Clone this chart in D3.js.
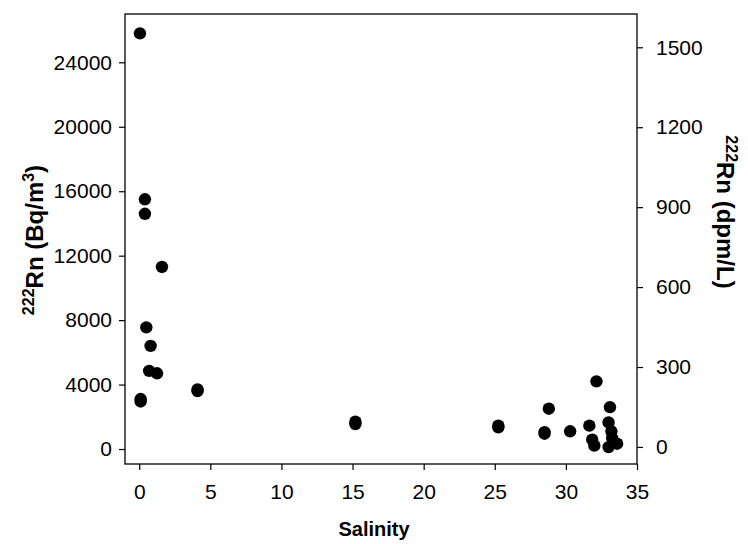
<!DOCTYPE html>
<html>
<head>
<meta charset="utf-8">
<script src="https://cdn.jsdelivr.net/npm/d3@7"></script>
<style>
  html, body { margin: 0; padding: 0; background: #fff; }
  svg { display: block; }
  text { font-family: Arial, "Liberation Sans", Helvetica, sans-serif; fill: #000; }
</style>
</head>
<body>
<svg id="chart" width="748" height="544"></svg>
<script>
// Salinity vs. 222Rn activity (Bq/m3); right axis gives the same activity in dpm/L
const salinity = [0.05, 0.4, 0.4, 1.6, 0.5, 0.8, 0.7, 1.25, 0.1, 0.1, 4.1, 4.1,
                  15.2, 15.2, 25.25, 25.25, 28.8, 28.5, 28.5, 30.3,
                  32.15, 33.1, 31.65, 33.0, 31.85, 32.0, 33.2, 33.25, 33.0, 33.6];
const radonBq = [25800, 15500, 14600, 11300, 7550, 6400, 4850, 4700, 2950, 3100, 3600, 3700,
                 1550, 1700, 1350, 1450, 2500, 950, 1050, 1100,
                 4200, 2600, 1450, 1650, 580, 210, 1100, 680, 120, 330];

const xTicks = [0, 5, 10, 15, 20, 25, 30, 35];
const yLeftTicks = [0, 4000, 8000, 12000, 16000, 20000, 24000];
const yRightTicks = [0, 300, 600, 900, 1200, 1500];

const svg = d3.select("#chart");
const plot = { left: 125, right: 637, top: 14, bottom: 464 };

const x = d3.scaleLinear().domain([-1, 35]).range([plot.left, plot.right]);
const yL = d3.scaleLinear().domain([-930, 27000]).range([plot.bottom, plot.top]);
const yR = d3.scaleLinear().domain([-64, 1625]).range([plot.bottom, plot.top]);

const tickFont = "21px";

// frame
svg.append("rect")
  .attr("x", plot.left).attr("y", plot.top)
  .attr("width", plot.right - plot.left).attr("height", plot.bottom - plot.top)
  .attr("fill", "none").attr("stroke", "#000").attr("stroke-width", 1.3);

// axes
const xAxis = d3.axisBottom(x).tickValues(xTicks).tickSize(6).tickPadding(14).tickFormat(d3.format("d"));
const gx = svg.append("g").attr("transform", `translate(0,${plot.bottom})`).call(xAxis);

const yAxisL = d3.axisLeft(yL).tickValues(yLeftTicks).tickSize(6).tickPadding(7).tickFormat(d3.format("d"));
const gyl = svg.append("g").attr("transform", `translate(${plot.left},0)`).call(yAxisL);

const yAxisR = d3.axisRight(yR).tickValues(yRightTicks).tickSize(6).tickPadding(13).tickFormat(d3.format("d"));
const gyr = svg.append("g").attr("transform", `translate(${plot.right},0)`).call(yAxisR);

[gx, gyl, gyr].forEach(g => {
  g.select(".domain").remove();
  g.selectAll(".tick line").attr("stroke", "#000").attr("stroke-width", 1.2);
  g.selectAll(".tick text").attr("font-size", tickFont)
    .attr("font-family", "Arial, 'Liberation Sans', sans-serif").attr("fill", "#000");
});

// points
svg.append("g").selectAll("circle")
  .data(salinity.map((s, i) => [s, radonBq[i]]))
  .join("circle")
  .attr("cx", d => x(d[0]))
  .attr("cy", d => yL(d[1]))
  .attr("r", 6.2)
  .attr("fill", "#000");

// axis titles
svg.append("text")
  .attr("x", (plot.left + plot.right) / 2 - 7)
  .attr("y", 536)
  .attr("text-anchor", "middle")
  .attr("font-size", "20px").attr("font-weight", "bold")
  .text("Salinity");

const leftTitle = svg.append("text")
  .attr("transform", "translate(43,240) rotate(-90)")
  .attr("text-anchor", "middle")
  .attr("font-size", "24px").attr("font-weight", "bold");
leftTitle.append("tspan").attr("font-size", "16px").attr("dy", "-9").text("222");
leftTitle.append("tspan").attr("dy", "9").text("Rn (Bq/m");
leftTitle.append("tspan").attr("font-size", "16px").attr("dy", "-9").text("3");
leftTitle.append("tspan").attr("dy", "9").text(")");

const rightTitle = svg.append("text")
  .attr("transform", "translate(717,212) rotate(90)")
  .attr("text-anchor", "middle")
  .attr("font-size", "24px").attr("font-weight", "bold");
rightTitle.append("tspan").attr("font-size", "16px").attr("dy", "-9").text("222");
rightTitle.append("tspan").attr("dy", "9").text("Rn (dpm/L)");
</script>
</body>
</html>
